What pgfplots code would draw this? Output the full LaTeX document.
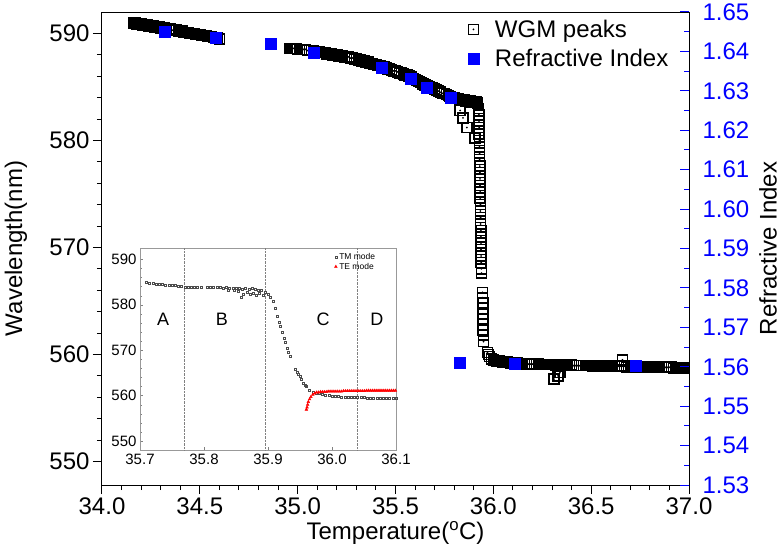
\documentclass[border=0pt]{standalone}
\usepackage{fontspec}
\setmainfont{Liberation Sans}
\usepackage{pgfplots}
\pgfplotsset{compat=1.18}
\pgfdeclareplotmark{sqdot}{%
  \pgfpathrectangle{\pgfpoint{-\pgfplotmarksize}{-\pgfplotmarksize}}{\pgfpoint{2\pgfplotmarksize}{2\pgfplotmarksize}}%
  \pgfusepathqstroke
  \pgfpathcircle{\pgfpointorigin}{1pt}\pgfusepathqfill}
\begin{document}
\begin{tikzpicture}
\pgfplotsset{every axis/.append style={/pgf/number format/assume math mode=true}}
% ---------------- main axis (wavelength) ----------------
\begin{axis}[
  at={(0,0)}, anchor=south west,
  scale only axis, width=587pt, height=473pt,
  xmin=34, xmax=37, ymin=547.8, ymax=592,
  xtick={34,34.5,35,35.5,36,36.5,37}, minor x tick num=4,
  ytick={550,560,570,580,590}, minor y tick num=4,
  xtick pos=left, ytick pos=left, tick align=outside,
  major tick length=9pt, minor tick length=5pt,
  tick style={black, line width=1pt},
  axis line style={line width=1pt},
  xticklabel style={/pgf/number format/.cd, fixed, fixed zerofill, precision=1},
  tick label style={font=\fontsize{24}{27}\selectfont},
  label style={font=\fontsize{24}{27}\selectfont},
  xlabel={Temperature(\textsuperscript{o}C)},
  ylabel={Wavelength(nm)},
  xlabel style={at={(axis description cs:0.5,-0.101)}, anchor=center},
  ylabel style={at={(axis description cs:-0.1465,0.5)}, anchor=center},
  clip marker paths=true,
  legend style={at={(axis description cs:0.618,0.992)}, anchor=north west, draw=none, fill=none,
    font=\fontsize{24}{27}\selectfont, row sep=6pt, column sep=14pt},
  legend cell align=left,
]
\addplot[only marks, mark=sqdot, mark size=5pt, line width=1.6pt, black] coordinates {
(34.16,591.0)(34.17,591.0)(34.18,590.9)(34.19,590.9)(34.20,590.9)(34.21,590.8)(34.22,590.8)(34.23,590.8)
(34.24,590.7)(34.25,590.7)(34.26,590.7)(34.27,590.6)(34.28,590.6)(34.29,590.6)(34.30,590.5)(34.31,590.5)
(34.32,590.5)(34.33,590.4)(34.34,590.4)(34.35,590.4)(34.36,590.3)(34.37,590.3)(34.38,590.3)(34.39,590.2)
(34.40,590.2)(34.41,590.2)(34.42,590.1)(34.43,590.1)(34.44,590.1)(34.45,590.0)(34.46,590.0)(34.47,590.0)
(34.48,589.9)(34.49,589.9)(34.50,589.9)(34.51,589.8)(34.52,589.8)(34.53,589.8)(34.54,589.7)(34.55,589.7)
(34.56,589.7)(34.57,589.6)(34.58,589.6)(34.59,589.6)(34.60,589.5)
(34.96,588.6)(34.97,588.6)(34.98,588.6)(34.99,588.6)(35.00,588.5)(35.01,588.5)(35.02,588.5)(35.03,588.5)
(35.04,588.5)(35.05,588.4)(35.06,588.4)(35.07,588.4)(35.08,588.4)(35.09,588.3)(35.10,588.3)(35.11,588.3)
(35.12,588.2)(35.13,588.2)(35.14,588.2)(35.15,588.1)(35.16,588.1)(35.17,588.1)(35.18,588.0)(35.19,588.0)
(35.20,588.0)(35.21,587.9)(35.22,587.9)(35.23,587.9)(35.24,587.8)(35.25,587.8)(35.26,587.8)(35.27,587.7)
(35.28,587.7)(35.29,587.6)(35.30,587.6)(35.31,587.5)(35.32,587.5)(35.33,587.4)(35.34,587.4)(35.35,587.3)
(35.36,587.3)(35.37,587.2)(35.38,587.2)(35.39,587.1)(35.40,587.1)(35.41,587.0)(35.42,587.0)(35.43,586.9)
(35.44,586.9)(35.45,586.8)(35.46,586.7)(35.47,586.7)(35.48,586.6)(35.49,586.5)(35.50,586.5)(35.51,586.4)
(35.52,586.3)(35.53,586.3)(35.54,586.2)(35.55,586.1)(35.56,586.1)(35.57,586.0)(35.58,585.9)(35.59,585.8)
(35.60,585.7)(35.61,585.6)(35.62,585.5)(35.63,585.4)(35.64,585.3)(35.65,585.2)(35.66,585.1)(35.67,585.0)
(35.68,584.9)(35.69,584.9)(35.70,584.8)(35.71,584.7)(35.72,584.6)(35.73,584.5)(35.74,584.4)(35.75,584.4)
(35.76,584.3)(35.77,584.2)(35.78,584.1)(35.79,584.0)(35.80,584.0)(35.81,583.9)(35.82,583.9)(35.83,583.8)
(35.84,583.8)(35.85,583.8)(35.86,583.7)(35.87,583.7)(35.88,583.7)(35.89,583.6)(35.90,583.6)(35.91,583.6)
(35.92,583.5)
(35.83,582.8)(35.845,582.1)(35.865,581.2)(35.905,580.2)
(35.925,583.0)(35.926,582.4)(35.927,581.8)(35.928,581.2)(35.928,580.6)(35.929,580.0)(35.929,579.4)
(35.930,578.8)(35.930,578.2)(35.931,577.6)(35.931,577.0)(35.932,576.4)(35.932,575.8)(35.933,575.2)
(35.933,574.6)(35.934,574.0)(35.934,573.4)(35.935,572.8)(35.935,572.2)(35.936,571.6)(35.936,571.0)
(35.937,570.4)(35.937,569.8)(35.938,569.2)(35.938,568.6)(35.939,568.0)(35.939,567.6)
(35.945,565.8)(35.945,565.3)(35.946,564.8)(35.946,564.3)(35.947,563.8)(35.947,563.3)(35.948,562.8)
(35.948,562.3)(35.949,561.8)(35.950,561.2)
(35.970,560.2)(35.975,560.0)(35.98,559.8)(35.99,559.6)(36.00,559.5)(36.01,559.45)(36.02,559.4)(36.03,559.4)
(36.04,559.35)(36.05,559.3)(36.06,559.3)(36.07,559.3)(36.08,559.25)(36.09,559.2)(36.10,559.2)(36.11,559.2)
(36.12,559.2)(36.13,559.15)(36.14,559.15)(36.15,559.15)(36.16,559.1)(36.17,559.1)(36.18,559.1)(36.19,559.1)
(36.20,559.1)(36.21,559.1)(36.22,559.1)(36.23,559.1)(36.24,559.05)(36.25,559.05)(36.26,559.05)(36.27,559.05)
(36.28,559.05)(36.29,559.05)(36.30,559.05)(36.31,559.05)(36.32,559.0)(36.33,559.0)(36.34,559.0)(36.35,559.0)
(36.36,559.0)(36.37,559.0)(36.38,559.0)(36.39,559.0)(36.40,559.0)(36.41,558.95)(36.42,558.95)(36.43,558.95)
(36.44,558.95)(36.45,558.95)(36.46,558.95)(36.47,558.95)(36.48,558.95)(36.49,558.95)(36.50,558.95)(36.51,558.9)
(36.52,558.9)(36.53,558.9)(36.54,558.9)(36.55,558.9)(36.56,558.9)(36.57,558.9)(36.58,558.9)(36.59,558.9)
(36.60,558.9)(36.61,558.9)(36.62,558.9)(36.63,558.9)(36.64,558.9)(36.65,558.9)(36.66,558.9)(36.67,558.9)
(36.68,558.85)(36.69,558.85)(36.70,558.85)(36.71,558.85)(36.72,558.85)(36.73,558.85)(36.74,558.85)(36.75,558.85)
(36.76,558.85)(36.77,558.85)(36.78,558.85)(36.79,558.8)(36.80,558.8)(36.81,558.8)(36.82,558.8)(36.83,558.8)
(36.84,558.8)(36.85,558.8)(36.86,558.8)(36.87,558.8)(36.88,558.8)(36.89,558.8)(36.90,558.8)(36.91,558.8)
(36.92,558.75)(36.93,558.75)(36.94,558.75)(36.95,558.75)(36.96,558.75)(36.97,558.75)(36.98,558.75)(36.99,558.75)
(37.00,558.75)
(36.31,557.7)(36.33,558.0)(36.34,558.3)(36.66,559.5)
};
\addlegendentry{WGM peaks}
\addlegendimage{only marks, mark=square*, mark size=5.5pt, blue}
\addlegendentry{Refractive Index}
\end{axis}
% ---------------- right axis (refractive index) ----------------
\begin{axis}[
  at={(0,0)}, anchor=south west,
  scale only axis, width=587pt, height=473pt,
  xmin=34, xmax=37, ymin=1.53, ymax=1.65,
  axis x line=none, axis y line*=right,
  ytick={1.53,1.54,1.55,1.56,1.57,1.58,1.59,1.60,1.61,1.62,1.63,1.64,1.65},
  minor y tick num=1, tick align=inside,
  major tick length=9pt, minor tick length=5pt,
  ytick style={blue, line width=1pt},
  axis line style={line width=1pt, black},
  yticklabel style={blue, font=\fontsize{24}{27}\selectfont, xshift=10pt,
    /pgf/number format/.cd, fixed, fixed zerofill, precision=2},
  ylabel={Refractive Index},
  ylabel style={at={(axis description cs:1.1346,0.5)}, anchor=center, rotate=0,
    font=\fontsize{24}{27}\selectfont},
  clip marker paths=true,
]
\addplot[only marks, mark=square*, mark size=5.5pt, blue] coordinates {
(33.98,1.6475)(34.32,1.6449)(34.58,1.6434)(34.86,1.6419)(35.08,1.6396)(35.43,1.6358)
(35.58,1.6330)(35.66,1.6307)(35.78,1.6282)(35.83,1.5610)(36.11,1.5607)(36.73,1.5602)
};
\end{axis}
% ---------------- inset ----------------
\begin{axis}[
  at={(38pt,35pt)}, anchor=south west,
  scale only axis, width=256pt, height=202pt,
  xmin=35.7, xmax=36.1, ymin=548, ymax=592.5,
  xtick={35.7,35.8,35.9,36.0,36.1}, ytick={550,560,570,580,590},
  minor y tick num=4,
  xtick pos=left, ytick pos=left, tick align=inside,
  major tick length=3pt, minor tick length=2pt,
  axis line style={gray!80, line width=0.6pt}, tick style={gray},
  tick label style={font=\fontsize{15}{17}\selectfont},
  xticklabel style={/pgf/number format/.cd, fixed, fixed zerofill, precision=1},
  legend style={at={(axis description cs:0.755,0.99)}, anchor=north west, draw=none, fill=none,
    font=\fontsize{8.5}{9}\selectfont, inner sep=1pt, row sep=-2pt},
  legend cell align=left,
]
\addplot[only marks, mark=square, mark size=1pt, line width=0.5pt, black!70] coordinates {
(35.710,584.9)(35.715,584.8)(35.720,584.7)(35.725,584.6)(35.730,584.6)(35.735,584.5)(35.740,584.4)
(35.745,584.3)(35.750,584.3)(35.755,584.2)(35.760,584.1)(35.765,584.0)(35.770,583.9)(35.775,583.9)
(35.780,583.8)(35.785,583.8)(35.790,583.8)(35.795,583.8)(35.805,583.8)(35.810,583.8)(35.815,583.8)
(35.820,583.8)(35.825,583.8)(35.830,583.7)(35.835,583.8)(35.838,583.2)(35.840,583.7)(35.845,583.6)
(35.848,583.3)(35.850,583.7)(35.853,582.9)(35.855,583.6)(35.858,581.7)(35.860,583.5)(35.862,582.4)
(35.865,583.6)(35.867,582.8)(35.870,583.4)(35.872,582.3)(35.875,583.6)(35.877,582.6)(35.880,583.4)
(35.882,582.0)(35.885,583.2)(35.887,582.5)(35.890,583.3)(35.892,582.0)(35.895,582.8)(35.900,582.4)
(35.904,581.6)(35.908,580.7)(35.911,579.2)(35.914,577.4)(35.917,576.2)(35.919,575.2)(35.922,574.0)
(35.925,572.6)(35.927,571.7)(35.930,570.4)(35.932,569.5)(35.934,568.6)
(35.942,565.7)(35.945,565.2)(35.948,564.7)(35.950,564.2)(35.952,563.6)(35.955,562.8)(35.958,562.3)
(35.960,562.0)(35.965,561.2)(35.970,560.8)(35.975,560.6)(35.980,560.4)(35.985,560.2)(35.990,560.1)
(35.995,560.0)(36.000,559.9)(36.005,559.8)(36.010,559.8)(36.015,559.7)(36.020,559.7)(36.025,559.7)
(36.030,559.6)(36.035,559.6)(36.040,559.6)(36.045,559.6)(36.050,559.6)(36.055,559.5)(36.060,559.5)
(36.065,559.5)(36.070,559.5)(36.075,559.5)(36.080,559.5)(36.085,559.5)(36.090,559.5)(36.095,559.4)
(36.100,559.4)
};
\addlegendentry{TM mode}
\addplot[only marks, mark=triangle*, mark size=1.6pt, red] coordinates {
(35.960,556.9)(35.961,557.4)(35.962,558.0)(35.963,558.6)(35.965,559.2)(35.967,559.7)(35.970,560.2)
(35.973,560.5)(35.976,560.7)(35.979,560.7)(35.982,560.8)(35.985,560.8)(35.988,560.8)(35.991,560.8)
(35.994,560.9)(35.997,560.9)(36.000,560.9)(36.003,560.9)(36.006,560.9)(36.009,560.9)(36.012,560.9)
(36.015,560.9)(36.018,561.0)(36.021,561.0)(36.024,561.0)(36.027,561.0)(36.030,561.0)(36.033,561.0)
(36.036,561.0)(36.039,561.0)(36.042,561.0)(36.045,561.0)(36.048,561.0)(36.051,561.0)(36.054,561.1)
(36.057,561.1)(36.060,561.1)(36.063,561.1)(36.066,561.1)(36.069,561.1)(36.072,561.1)(36.075,561.1)
(36.078,561.1)(36.081,561.1)(36.084,561.1)(36.087,561.1)(36.090,561.1)(36.093,561.1)(36.096,561.1)
(36.099,561.1)
};
\addlegendentry{TE mode}
\addplot[densely dotted, gray, forget plot] coordinates {(35.769,548) (35.769,592.5)};
\addplot[densely dotted, gray, forget plot] coordinates {(35.895,548) (35.895,592.5)};
\addplot[densely dotted, gray, forget plot] coordinates {(36.04,548) (36.04,592.5)};
\node[font=\fontsize{18}{20}\selectfont] at (axis cs:35.736,576.8) {A};
\node[font=\fontsize{18}{20}\selectfont] at (axis cs:35.828,576.8) {B};
\node[font=\fontsize{18}{20}\selectfont] at (axis cs:35.986,576.8) {C};
\node[font=\fontsize{18}{20}\selectfont] at (axis cs:36.07,576.8) {D};
\end{axis}
\pgfresetboundingbox
\path (-102pt,-70pt) rectangle (682pt,485pt);
\end{tikzpicture}
\end{document}
